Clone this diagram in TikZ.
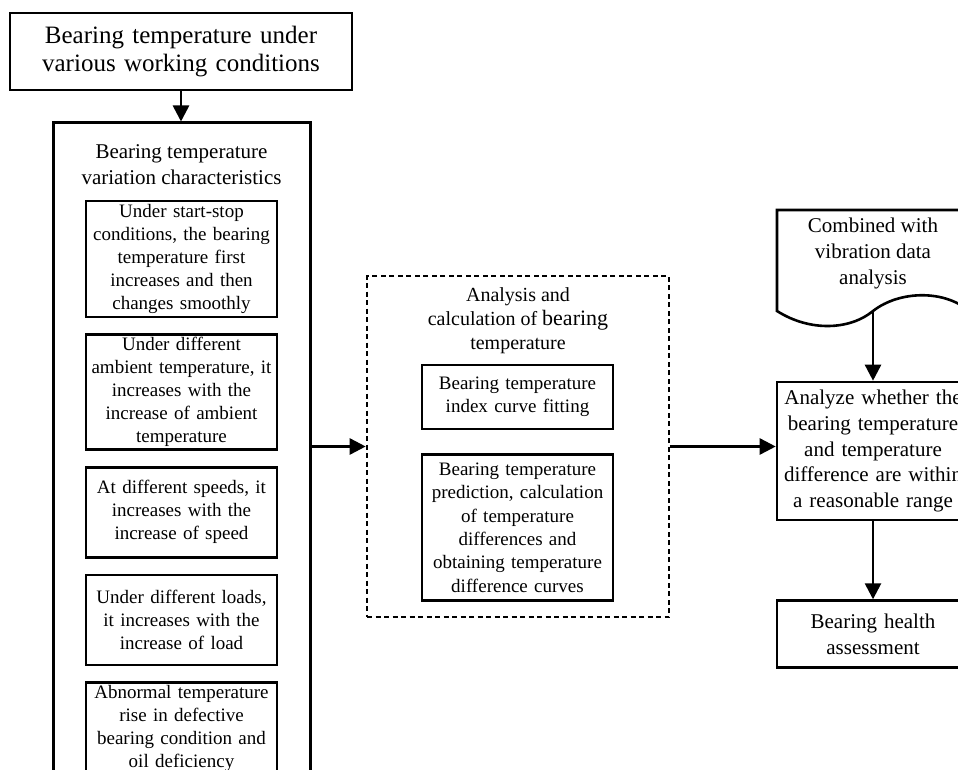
\documentclass[tikz,border=0pt]{standalone}
\usepackage{fontspec}
\setmainfont{Liberation Serif}
\usepackage{tikz}
\usetikzlibrary{arrows.meta,positioning}
\tikzset{
  bd/.style={line width=2.6pt},
  bx/.style={draw,bd,align=center,inner xsep=3pt,inner ysep=2pt,text width=185pt,font=\fontsize{19}{23}\selectfont},
  rbx/.style={bx,text width=186pt,font=\fontsize{21}{26}\selectfont},
  ar/.style={-{Triangle[length=16pt,width=16pt]},line width=2.6pt}
}
\begin{document}
\begin{tikzpicture}[x=1pt,y=-1pt]
\useasboundingbox (0,0) rectangle (958,770);
\clip (0,0) rectangle (958,770);
% top
\node[bx,line width=2.2pt,text width=336pt,minimum height=77pt,font=\fontsize{25}{28}\selectfont] (tp) at (181,51.5) {Bearing temperature under\\various working conditions};
% left column
\node[draw,line width=3pt,minimum width=257pt,minimum height=677pt] (big) at (181.5,461.5) {};
\node[align=center,font=\fontsize{21}{26}\selectfont] (hd) at (181.5,165) {Bearing temperature\\variation characteristics};
\node[bx,minimum height=116pt] (b1) at (181.5,259) {Under start-stop\\conditions, the bearing\\temperature first\\increases and then\\changes smoothly};
\node[bx,minimum height=115pt,below=15pt of b1] (b2) {Under different\\ambient temperature, it\\increases with the\\increase of ambient\\temperature};
\node[bx,minimum height=90pt,below=15pt of b2] (b3) {At different speeds, it\\increases with the\\increase of speed};
\node[bx,minimum height=90pt,below=15pt of b3] (b4) {Under different loads,\\it increases with the\\increase of load};
\node[bx,minimum height=92pt,below=15pt of b4] (b5) {Abnormal temperature\\rise in defective\\bearing condition and\\oil deficiency};
% middle
\node[draw,line width=2.6pt,dash pattern=on 5pt off 3.5pt,minimum width=302pt,minimum height=341pt] (dash) at (518,446.5) {};
\node[align=center,font=\fontsize{20}{24}\selectfont] (mt) at (518,321) {Analysis and\\calculation of {\fontsize{22}{24}\selectfont bearing}\\temperature};
\node[bx,minimum height=64pt] (ma) at (517.5,397) {Bearing temperature\\index curve fitting};
\node[bx,minimum height=146pt,below=23pt of ma,font=\fontsize{19}{23.3}\selectfont] (mb) {Bearing temperature\\prediction, calculation\\of temperature\\differences and\\obtaining temperature\\difference curves};
% right
\draw[bd] (969,311) -- (969,210) -- (777,210) -- (777,311)
  .. controls (810,332) and (850,330) .. (873,311)
  .. controls (900,290) and (945,290) .. (969,311);
\node[align=center,font=\fontsize{21}{26}\selectfont] (doc) at (873,253) {Combined with\\vibration data\\analysis};
\coordinate (dw) at (873,311);
\node[rbx,minimum height=138pt,font=\fontsize{21}{25.7}\selectfont] (an) at (873,451) {Analyze whether the\\bearing temperature\\and temperature\\difference are within\\a reasonable range};
\node[rbx,minimum height=67pt,below=78pt of an] (hl) {Bearing health\\assessment};
% connectors
\draw[ar] (tp.south) -- (tp.south |- big.north);
\draw[ar] (big.east |- dash.west) -- (dash.west);
\draw[ar] (dash.east) -- (dash.east -| an.west);
\draw[ar] (dw) -- (an.north);
\draw[ar] (an) -- (hl);
\end{tikzpicture}
\end{document}
